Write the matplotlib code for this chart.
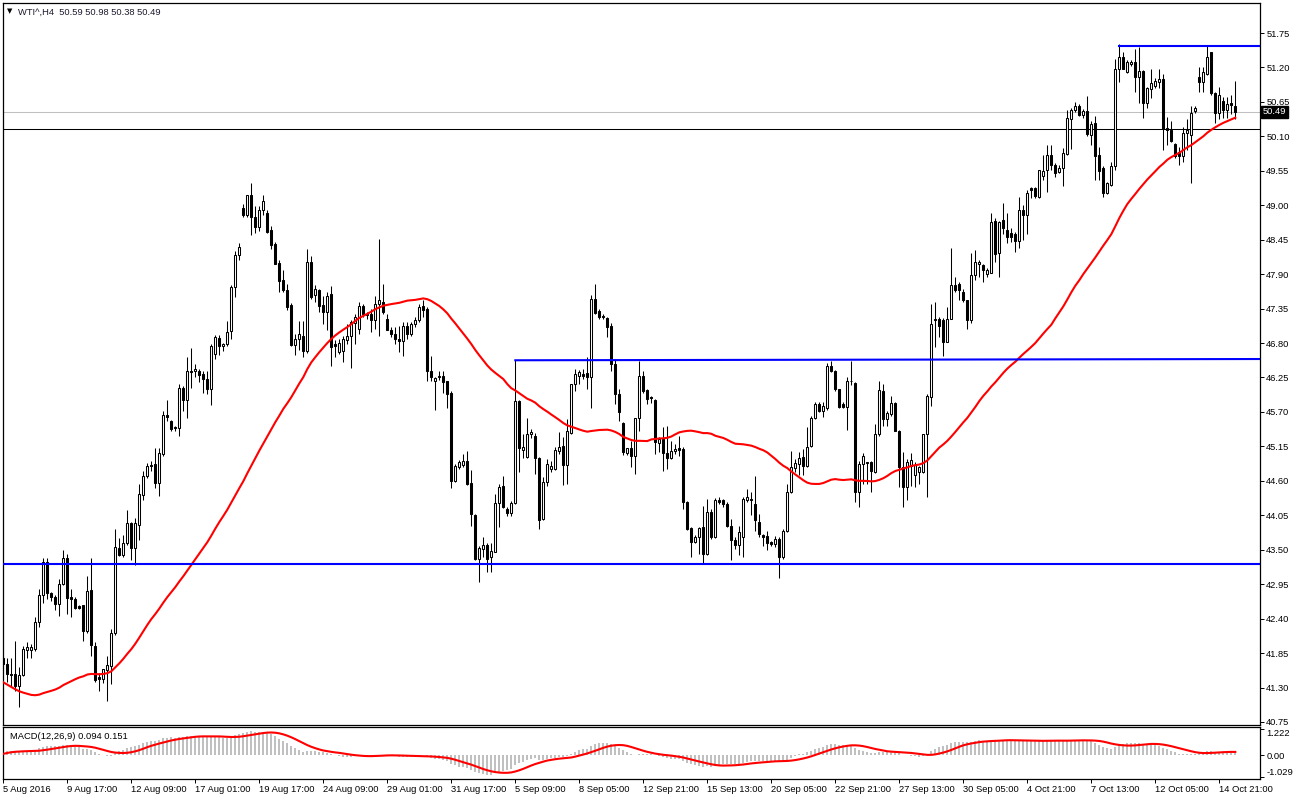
import matplotlib
matplotlib.use("Agg")
import matplotlib.pyplot as plt
import matplotlib.transforms as mtransforms
import numpy as np
import pandas as pd

# -------------------
# WTI^ H4 bars, 5 Aug 2016 .. 14 Oct 2016
# -------------------
opens = [
    41.77, 41.68, 41.51, 41.51, 41.32, 41.50, 41.90, 41.90, 41.91, 42.35,
    42.78, 43.30, 42.81, 42.74, 42.63, 42.96, 43.37, 42.74, 42.71, 42.60,
    42.61, 42.20, 42.85, 41.97, 41.47, 41.44, 41.58, 41.64, 42.17, 43.53,
    43.42, 43.60, 43.92, 43.52, 43.90, 44.38, 44.68, 44.86, 44.87, 44.56,
    45.03, 45.65, 45.55, 45.46, 45.44, 46.09, 45.89, 46.36, 46.35, 46.36,
    46.30, 46.22, 46.06, 46.62, 46.88, 46.75, 46.78, 46.99, 47.70, 48.21,
    48.96, 48.84, 49.16, 48.81, 48.65, 48.93, 48.87, 48.60, 48.38, 48.08,
    47.81, 47.64, 47.41, 46.77, 46.87, 46.92, 46.67, 48.10, 47.57, 47.64,
    47.41, 47.30, 47.58, 46.78, 46.66, 46.68, 46.85, 46.92, 47.12, 47.03,
    47.39, 47.24, 47.26, 47.16, 47.43, 47.45, 47.19, 47.01, 46.95, 46.87,
    46.84, 47.08, 46.95, 47.10, 47.16, 47.39, 47.35, 46.36, 46.20, 46.25,
    46.27, 46.20, 46.00, 44.60, 44.82, 44.85, 44.91, 44.57, 44.06, 43.35,
    43.51, 43.58, 43.38, 43.47, 44.24, 44.51, 44.15, 44.08, 44.24, 45.88,
    45.10, 44.98, 45.35, 45.32, 44.97, 43.99, 44.58, 44.79, 44.79, 45.07,
    45.15, 44.86, 45.36, 46.14, 46.28, 46.30, 46.32, 46.26, 47.51, 47.31,
    47.23, 47.20, 47.08, 46.47, 45.99, 45.52, 45.04, 45.13, 44.99, 45.60,
    46.28, 46.05, 45.94, 45.89, 45.20, 45.27, 45.04, 44.97, 45.07, 45.13,
    45.11, 44.27, 43.85, 43.63, 43.70, 43.86, 43.43, 44.11, 43.70, 44.30,
    44.29, 44.23, 43.88, 43.65, 43.58, 43.70, 44.30, 44.31, 44.23, 43.95,
    43.73, 43.72, 43.62, 43.59, 43.67, 43.39, 43.80, 44.42, 44.81, 44.87,
    44.98, 44.83, 45.15, 45.61, 45.83, 45.71, 45.77, 46.44, 46.36, 46.07,
    45.83, 45.78, 46.20, 46.16, 44.42, 44.87, 44.88, 44.90, 44.74, 45.34,
    46.04, 45.59, 45.67, 45.85, 45.40, 44.82, 44.50, 44.83, 44.70, 44.74,
    44.74, 45.35, 45.94, 47.19, 47.19, 47.16, 46.82, 47.19, 47.72, 47.75,
    47.61, 47.48, 47.16, 47.88, 48.06, 48.04, 47.91, 47.92, 48.75, 48.23,
    48.76, 48.61, 48.56, 48.54, 48.43, 48.93, 48.84, 49.28, 49.27, 49.13,
    49.46, 49.56, 49.80, 49.64, 49.53, 49.59, 49.82, 50.37, 50.52, 50.58,
    50.44, 50.51, 50.12, 50.32, 49.80, 49.60, 49.20, 49.32, 49.62, 51.17,
    51.37, 51.12, 51.26, 51.28, 51.05, 51.15, 50.63, 50.85, 50.90, 50.96,
    51.01, 50.23, 50.20, 49.98, 49.85, 49.78, 50.16, 50.12, 50.51, 51.04,
    50.96, 51.10, 51.44, 50.79, 50.47, 50.67, 50.52, 50.64, 50.59,
]
highs = [
    41.80, 41.77, 41.77, 42.05, 41.63, 41.97, 42.03, 42.00, 42.42, 42.88,
    43.37, 43.37, 42.83, 42.77, 43.03, 43.50, 43.43, 42.88, 42.74, 42.62,
    42.62, 43.08, 43.37, 42.02, 41.54, 41.60, 41.80, 42.24, 43.83, 43.69,
    43.73, 44.13, 43.95, 44.01, 44.55, 44.75, 44.89, 44.92, 45.12, 45.12,
    45.71, 45.89, 45.57, 45.48, 46.15, 46.12, 46.58, 46.72, 46.46, 46.38,
    46.35, 46.35, 46.78, 46.93, 46.93, 46.80, 47.15, 47.73, 48.27, 48.39,
    49.02, 49.16, 49.36, 48.99, 48.99, 49.17, 48.93, 48.67, 48.41, 48.13,
    47.96, 47.75, 47.44, 46.95, 47.15, 47.15, 48.30, 48.19, 47.72, 47.67,
    47.55, 47.61, 47.71, 46.85, 46.86, 46.92, 47.11, 47.16, 47.26, 47.46,
    47.43, 47.30, 47.35, 47.55, 48.46, 47.74, 47.27, 47.05, 47.05, 47.08,
    47.13, 47.13, 47.13, 47.21, 47.43, 47.48, 47.38, 46.60, 46.26, 46.35,
    46.36, 46.20, 46.03, 44.87, 44.93, 45.03, 45.07, 44.77, 44.07, 43.56,
    43.70, 43.60, 43.60, 44.39, 44.55, 44.67, 44.18, 44.28, 46.53, 45.89,
    45.35, 45.60, 45.43, 45.37, 44.98, 44.66, 44.95, 44.92, 45.14, 45.38,
    45.30, 45.59, 46.15, 46.39, 46.37, 46.39, 46.58, 47.56, 47.74, 47.35,
    47.26, 47.22, 47.12, 46.55, 46.07, 45.54, 45.13, 45.24, 45.61, 46.51,
    46.36, 46.07, 45.96, 45.91, 45.30, 45.46, 45.48, 45.24, 45.19, 45.32,
    45.14, 44.28, 43.86, 43.73, 43.87, 44.20, 44.31, 44.15, 44.33, 44.34,
    44.31, 44.26, 43.99, 43.70, 43.88, 44.34, 44.47, 44.42, 44.68, 44.07,
    43.75, 43.80, 43.64, 43.72, 43.70, 43.83, 44.55, 45.08, 44.95, 45.06,
    45.11, 45.46, 45.64, 45.86, 45.86, 45.86, 46.48, 46.51, 46.37, 46.07,
    45.86, 46.25, 46.51, 46.18, 44.92, 45.05, 44.90, 44.92, 45.51, 46.20,
    46.15, 45.72, 45.95, 45.86, 45.41, 45.06, 44.95, 45.04, 44.90, 44.84,
    45.35, 45.99, 47.43, 47.45, 47.22, 47.20, 47.37, 48.31, 47.85, 47.77,
    47.66, 47.49, 48.23, 48.28, 48.12, 48.07, 48.00, 48.87, 48.79, 48.75,
    49.03, 48.88, 48.63, 48.58, 49.13, 49.00, 49.25, 49.29, 49.29, 49.57,
    49.80, 49.96, 49.96, 49.67, 49.64, 49.91, 50.52, 50.55, 50.65, 50.61,
    50.54, 50.74, 50.34, 50.42, 49.93, 49.62, 49.37, 49.69, 51.33, 51.58,
    51.45, 51.32, 51.32, 51.50, 51.53, 51.16, 50.89, 51.17, 51.03, 51.17,
    51.10, 50.41, 50.35, 49.99, 49.93, 50.25, 50.37, 50.58, 50.58, 51.21,
    51.20, 51.54, 51.45, 50.81, 50.88, 50.73, 50.73, 50.76, 50.98,
]
lows = [
    41.65, 41.39, 41.31, 41.25, 40.99, 41.48, 41.77, 41.77, 41.89, 42.27,
    42.65, 42.71, 42.68, 42.54, 42.45, 42.94, 42.48, 42.43, 42.55, 42.55,
    42.05, 42.17, 41.80, 41.39, 41.25, 41.37, 41.08, 41.35, 42.14, 43.40,
    43.38, 43.58, 43.34, 43.26, 43.66, 44.30, 44.65, 44.75, 44.49, 44.36,
    45.00, 45.55, 45.40, 45.40, 45.31, 45.71, 45.60, 46.08, 46.25, 46.18,
    46.00, 45.98, 45.81, 46.55, 46.61, 46.68, 46.75, 46.87, 47.53, 48.13,
    48.81, 48.81, 48.53, 48.56, 48.59, 48.84, 48.56, 48.30, 48.06, 47.61,
    47.61, 47.33, 46.75, 46.61, 46.69, 46.58, 46.64, 47.50, 47.45, 47.30,
    47.10, 47.01, 46.43, 46.58, 46.62, 46.50, 46.79, 46.40, 46.79, 46.95,
    47.21, 47.19, 46.98, 47.03, 46.92, 47.26, 47.01, 46.90, 46.79, 46.66,
    46.60, 46.87, 46.92, 47.05, 47.14, 47.22, 46.20, 46.19, 45.73, 46.21,
    46.00, 45.77, 44.49, 44.58, 44.79, 44.82, 44.54, 43.88, 43.33, 42.98,
    43.38, 43.14, 43.14, 43.46, 43.86, 44.17, 44.04, 44.04, 44.23, 44.74,
    44.97, 44.96, 45.28, 44.71, 43.83, 43.98, 44.52, 44.74, 44.78, 45.03,
    44.54, 44.55, 45.35, 46.03, 46.15, 46.23, 46.07, 45.77, 47.27, 47.19,
    47.19, 46.90, 46.36, 45.83, 45.56, 45.02, 45.02, 44.82, 44.71, 45.40,
    46.01, 45.83, 45.85, 45.03, 45.06, 44.76, 44.79, 44.95, 45.03, 45.00,
    44.15, 43.81, 43.39, 43.60, 43.43, 43.27, 43.41, 43.67, 43.68, 44.23,
    44.19, 43.86, 43.34, 43.51, 43.41, 43.38, 44.27, 44.05, 43.80, 43.70,
    43.56, 43.49, 43.56, 43.54, 43.05, 43.35, 43.78, 44.40, 44.74, 44.70,
    44.70, 44.82, 45.14, 45.59, 45.70, 45.62, 45.73, 46.34, 46.04, 45.77,
    45.77, 45.41, 46.13, 44.26, 44.19, 44.55, 44.55, 44.42, 44.72, 45.32,
    45.47, 45.47, 45.63, 45.39, 44.50, 44.18, 44.29, 44.52, 44.50, 44.55,
    44.72, 44.34, 45.80, 46.74, 46.90, 46.59, 46.82, 47.19, 47.61, 47.48,
    47.45, 47.03, 47.12, 47.80, 47.86, 47.77, 47.86, 47.92, 48.10, 47.85,
    48.54, 48.39, 48.41, 48.25, 48.31, 48.44, 48.54, 49.11, 49.11, 49.11,
    49.40, 49.21, 49.56, 49.45, 49.51, 49.30, 49.80, 49.90, 50.49, 50.42,
    50.39, 50.10, 49.96, 49.40, 49.40, 49.13, 49.18, 49.30, 49.56, 50.97,
    51.17, 51.11, 51.22, 50.81, 50.63, 50.39, 50.55, 50.71, 50.87, 50.87,
    49.89, 49.96, 50.01, 49.76, 49.64, 49.69, 49.88, 49.36, 50.48, 50.81,
    50.81, 51.08, 50.76, 50.31, 50.37, 50.40, 50.40, 50.46, 50.38,
]
closes = [
    41.68, 41.51, 41.50, 41.32, 41.50, 41.92, 41.95, 41.94, 42.35, 42.78,
    43.30, 42.81, 42.74, 42.63, 42.96, 43.37, 42.73, 42.71, 42.57, 42.57,
    42.21, 42.84, 41.98, 41.42, 41.44, 41.60, 41.66, 42.17, 43.54, 43.42,
    43.60, 43.92, 43.52, 43.92, 44.39, 44.68, 44.84, 44.83, 44.56, 45.05,
    45.65, 45.62, 45.43, 45.44, 46.09, 45.89, 46.35, 46.34, 46.38, 46.29,
    46.22, 46.06, 46.76, 46.90, 46.75, 46.78, 46.98, 47.70, 48.21, 48.34,
    48.84, 49.16, 48.81, 48.65, 48.93, 49.07, 48.57, 48.37, 48.07, 47.79,
    47.64, 47.37, 46.77, 46.87, 46.94, 46.67, 48.10, 47.53, 47.67, 47.39,
    47.30, 47.55, 46.74, 46.76, 46.80, 46.87, 46.92, 47.13, 47.22, 47.39,
    47.26, 47.26, 47.16, 47.42, 47.48, 47.30, 47.01, 46.95, 46.87, 46.83,
    47.07, 46.94, 47.10, 47.17, 47.38, 47.32, 46.36, 46.26, 46.24, 46.28,
    46.18, 45.99, 44.59, 44.83, 44.90, 44.92, 44.55, 44.07, 43.35, 43.52,
    43.57, 43.35, 43.48, 44.24, 44.50, 44.18, 44.08, 44.24, 45.88, 45.13,
    45.14, 45.35, 45.38, 44.97, 43.98, 44.58, 44.87, 44.84, 45.09, 45.14,
    44.86, 45.39, 46.14, 46.31, 46.34, 46.27, 46.26, 47.51, 47.28, 47.22,
    47.21, 47.06, 46.47, 45.98, 45.70, 45.06, 45.13, 45.00, 45.60, 46.28,
    46.04, 45.91, 45.92, 45.22, 45.27, 45.04, 44.97, 45.08, 45.11, 45.10,
    44.26, 43.83, 43.63, 43.70, 43.85, 43.43, 44.10, 43.70, 44.30, 44.27,
    44.23, 43.88, 43.65, 43.58, 43.78, 44.31, 44.35, 44.29, 43.97, 43.75,
    43.70, 43.60, 43.59, 43.67, 43.38, 43.80, 44.42, 44.82, 44.88, 44.97,
    44.83, 45.14, 45.61, 45.82, 45.72, 45.79, 46.44, 46.36, 46.07, 45.78,
    45.78, 46.20, 46.20, 44.42, 44.87, 45.00, 44.90, 44.76, 45.34, 46.05,
    45.59, 45.68, 45.85, 45.40, 44.82, 44.50, 44.90, 44.93, 44.85, 44.82,
    45.35, 45.96, 47.11, 47.16, 47.08, 46.82, 47.19, 47.72, 47.64, 47.64,
    47.48, 47.16, 47.88, 48.09, 48.10, 47.96, 47.97, 48.73, 48.22, 48.73,
    48.64, 48.50, 48.49, 48.43, 48.92, 48.84, 49.20, 49.25, 49.14, 49.56,
    49.55, 49.80, 49.64, 49.52, 49.59, 49.83, 50.39, 50.52, 50.58, 50.44,
    50.50, 50.14, 50.30, 49.78, 49.55, 49.20, 49.35, 49.62, 51.17, 51.36,
    51.17, 51.29, 51.29, 51.05, 51.15, 50.63, 50.87, 50.95, 50.99, 51.02,
    50.21, 50.20, 50.03, 49.78, 49.78, 50.16, 50.20, 50.48, 50.55, 50.96,
    51.13, 51.37, 50.79, 50.47, 50.76, 50.52, 50.62, 50.60, 50.49,
]

# closes before the first visible bar (late Jul / early Aug), only used
# to warm up the 50 MA and the MACD
pre_closes = [
    43.4, 43.3, 43.2, 43.1, 43.0, 42.9, 42.8, 42.6,
    42.3, 42.1, 41.9, 41.8, 41.6, 41.5, 41.3, 41.2, 41.1, 41.0,
    41.2, 41.3, 41.4, 41.5, 41.6, 41.5, 41.4,
    41.0, 40.7, 40.4, 40.2, 40.0, 39.9, 39.8, 39.6, 39.5, 39.6,
    39.8, 40.2, 40.5, 40.7, 40.9, 41.2, 41.4, 41.5, 41.6, 41.7,
    41.8, 41.9, 41.8, 41.8,
]

price_ticks = [51.75, 51.20, 50.65, 50.10, 49.55, 49.00, 48.45, 47.90,
               47.35, 46.80, 46.25, 45.70, 45.15, 44.60, 44.05, 43.50,
               42.95, 42.40, 41.85, 41.30, 40.75]
time_ticks = [0, 16, 32, 48, 64, 80, 96, 112, 128, 144,
              160, 176, 192, 208, 224, 240, 256, 272, 288, 304]
time_labels = ["5 Aug 2016", "9 Aug 17:00", "12 Aug 09:00", "17 Aug 01:00",
               "19 Aug 17:00", "24 Aug 09:00", "29 Aug 01:00", "31 Aug 17:00",
               "5 Sep 09:00", "8 Sep 05:00", "12 Sep 21:00", "15 Sep 13:00",
               "20 Sep 05:00", "22 Sep 21:00", "27 Sep 13:00", "30 Sep 05:00",
               "4 Oct 21:00", "7 Oct 13:00", "12 Oct 05:00", "14 Oct 21:00"]
macd_ticks = [1.222, 0.0, -1.029]
macd_tick_labels = ["1.222", "0.00", "-1.029"]

# drawn levels
support_level = 43.28
range_top = [(128, 46.525), (314.2, 46.545)]   # (bar, price) ends
high_level_start = 279
high_level = 51.535
black_level = 50.22
bid_price = 50.49

ma_period = 50

plt.rcParams['font.family'] = ['Liberation Sans', 'DejaVu Sans']
plt.rcParams['font.size'] = 6.75

# -------------------
# indicators
# -------------------
all_close = pd.Series(pre_closes + closes)
n_pre = len(pre_closes)
ma = all_close.rolling(ma_period).mean().values[n_pre:]
ema12 = all_close.ewm(span=12, adjust=False).mean()
ema26 = all_close.ewm(span=26, adjust=False).mean()
macd_main = (ema12 - ema26)
macd_signal = macd_main.rolling(9).mean()
macd_main = macd_main.values[n_pre:]
macd_signal = macd_signal.values[n_pre:]

o = np.array(opens)
h = np.array(highs)
l = np.array(lows)
c = np.array(closes)
idx = np.arange(len(c))
up = c >= o

W, H = 1300, 800
fig = plt.figure(figsize=(13, 8), dpi=100)
fig.patch.set_facecolor('white')
x0, x1 = 2.7, 1260
ax = fig.add_axes([x0 / W, 1 - 725 / H, (x1 - x0) / W, (725 - 3) / H])
ax2 = fig.add_axes([x0 / W, 1 - 779 / H, (x1 - x0) / W, (779 - 727) / H])

xlim = (-0.15, 314.17)

# -------------------
# price chart
# -------------------
ax.axhline(bid_price, color='#c0c0c0', lw=0.75, zorder=1)
ax.axhline(black_level, color='black', lw=0.75, zorder=1)

ax.vlines(idx, l, h, color='black', lw=0.75, zorder=2)
body_lo = np.minimum(o, c)
body_h = np.abs(c - o)
ax.bar(idx[up], body_h[up], bottom=body_lo[up], width=0.5,
       facecolor='white', edgecolor='black', lw=0.75, zorder=3)
ax.bar(idx[~up], body_h[~up], bottom=body_lo[~up], width=0.5,
       facecolor='black', edgecolor='black', lw=0.75, zorder=3)

ax.plot(idx, ma, color='#ff0000', lw=1.5, zorder=4)

ax.axhline(support_level, color='#0000ff', lw=1.5, zorder=5)
ax.plot([p[0] for p in range_top], [p[1] for p in range_top],
        color='#0000ff', lw=1.5, zorder=5)
ax.plot([high_level_start, xlim[1]], [high_level, high_level],
        color='#0000ff', lw=1.5, zorder=5)

ax.set_xlim(*xlim)
ax.set_ylim(40.702, 52.229)
ax.set_xticks([])
ax.yaxis.tick_right()
ax.set_yticks(price_ticks)
ax.set_yticklabels(['%.2f' % t for t in price_ticks])
ax.tick_params(axis='y', direction='out', length=3, width=0.7, pad=1.5,
               colors='black')
for s in ax.spines.values():
    s.set_linewidth(0.9)

trans = mtransforms.blended_transform_factory(ax.transAxes, ax.transData)
ax.text(1.0025, bid_price, '50.49', transform=trans, color='white',
        va='center', ha='left', fontsize=6.75,
        bbox=dict(boxstyle='square,pad=0.18', fc='black', ec='black'))

fig.text(7 / W, 1 - 11.5 / H, '\u25bc', fontsize=5, va='center', ha='left',
         family=['DejaVu Sans'])
fig.text(18 / W, 1 - 12 / H, 'WTI^,H4  50.59 50.98 50.38 50.49',
         va='center', ha='left', color='#1a1a2e')

# -------------------
# MACD panel
# -------------------
ax2.bar(idx, macd_main, width=0.5, color='#c0c0c0', zorder=2)
ax2.plot(idx, macd_signal, color='#ff0000', lw=1.5, zorder=3)
ax2.set_xlim(*xlim)
ax2.set_ylim(-1.12, 1.32)
ax2.yaxis.tick_right()
ax2.set_yticks(macd_ticks)
ax2.set_yticklabels(macd_tick_labels)
ylabs = ax2.get_yticklabels()
ylabs[0].set_verticalalignment('top')
ylabs[2].set_verticalalignment('bottom')
ax2.set_xticks(time_ticks)
ax2.set_xticklabels(time_labels)
for lbl in ax2.get_xticklabels():
    lbl.set_horizontalalignment('left')
ax2.tick_params(axis='both', direction='out', length=3, width=0.7, pad=1.5)
for s in ax2.spines.values():
    s.set_linewidth(0.9)
ax2.text(7 / (x1 - x0), 0.82, 'MACD(12,26,9) 0.094 0.151',
         transform=ax2.transAxes, va='center', ha='left')

fig.savefig('out.png', dpi=100)
